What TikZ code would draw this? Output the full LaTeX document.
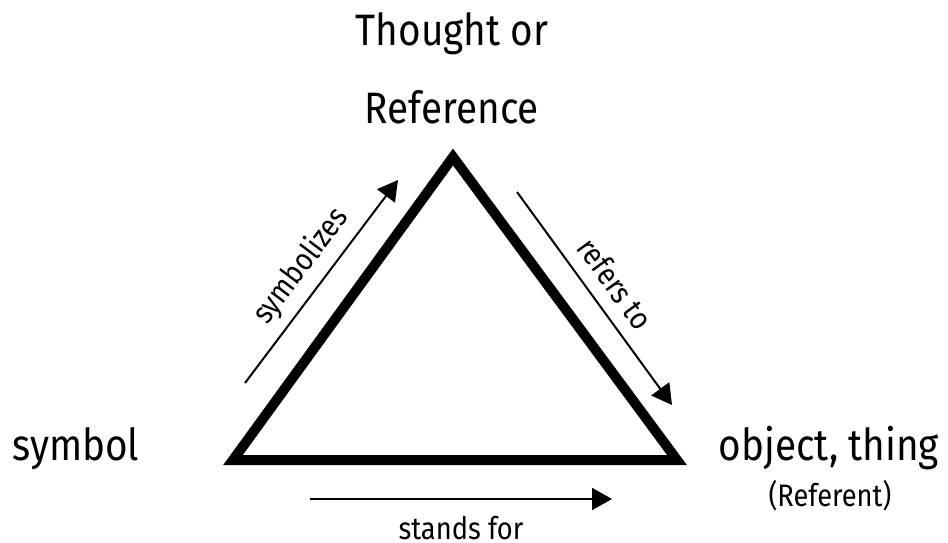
\documentclass[tikz,border=0pt]{standalone}
\usepackage{fontspec}
\setmainfont[FakeStretch=0.88]{Fira Sans}
\usepackage{tikz}
\usetikzlibrary{arrows.meta, positioning, calc}

\newcommand{\cornerfont}{\fontsize{44}{78}\selectfont}
\newcommand{\sidefont}{\fontsize{31}{36}\selectfont}

\begin{document}
\begin{tikzpicture}[
        x=1pt, y=-1pt,
        corner/.style={inner sep=0pt, align=center, font=\cornerfont},
        side/.style={inner sep=0pt, font=\sidefont},
        edge/.style={line width=10pt, line join=miter},
        arrow/.style={-{Triangle[length=20pt, width=22pt]}, line width=2pt}
    ]
    \useasboundingbox (0,0) rectangle (948,542);

    % Triangle corners
    \coordinate (apex) at (453,157);
    \coordinate (left) at (233,460);
    \coordinate (right) at (677,460);
    \draw[edge] (left) -- (apex) -- (right) -- cycle;

    % Corner labels
    \node[corner] (thought) at (452,68) {Thought or\\Reference};
    \node[corner, anchor=base] (symbol) at (76,460) {symbol};
    \node[corner, anchor=base] (object) at (829,460) {object, thing};
    \node[side, anchor=base] (referent) at (830,506) {(Referent)};

    % Arrows
    \coordinate (symA) at (245,383);
    \coordinate (symB) at (398,180);
    \coordinate (refA) at (517,192);
    \coordinate (refB) at (672,405);
    \coordinate (stdA) at (310,499);
    \coordinate (stdB) at (612,499);

    \draw[arrow] (symA) -- (symB) node[side, midway, sloped, above=9pt] (symbolizes) {symbolizes};
    \draw[arrow] (refA) -- (refB) node[side, midway, sloped, above=13pt] (refers) {refers to};
    \draw[arrow] (stdA) -- (stdB) node[side, midway, below=16pt] (stands) {stands for};

\end{tikzpicture}
\end{document}
